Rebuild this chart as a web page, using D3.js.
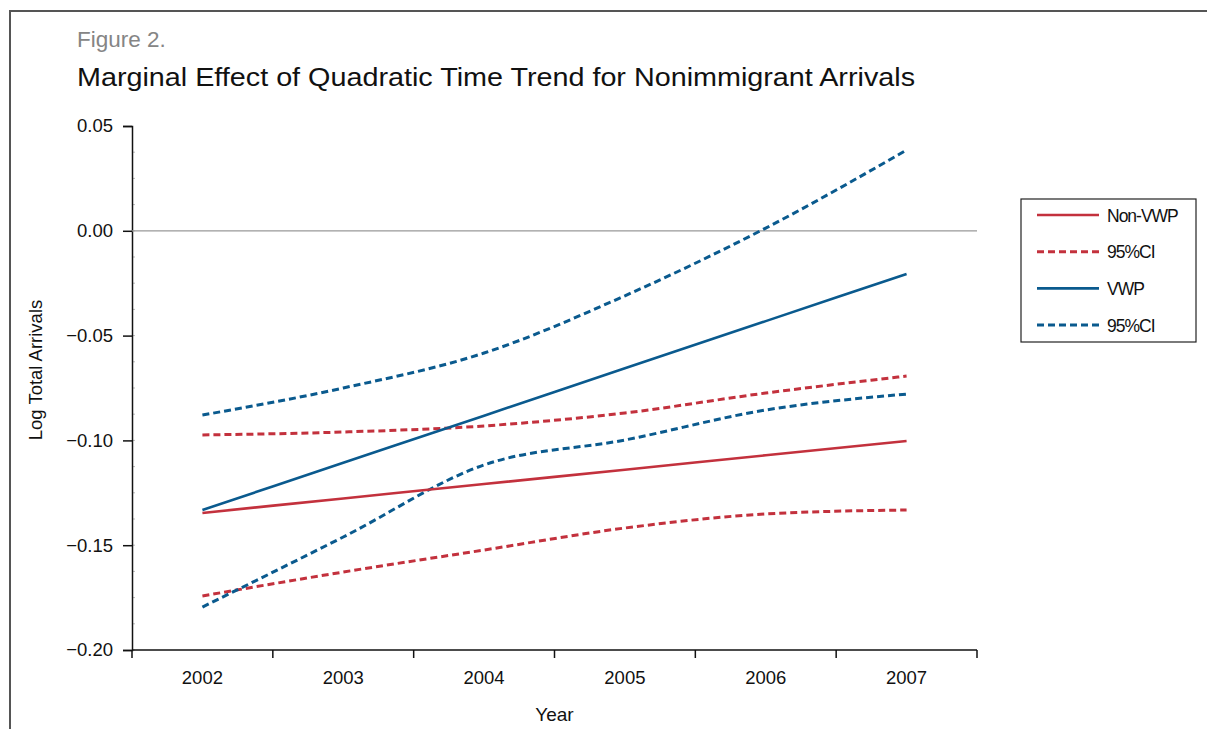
<!DOCTYPE html>
<html>
<head>
<meta charset="utf-8">
<script src="https://cdnjs.cloudflare.com/ajax/libs/d3/7.8.5/d3.min.js"></script>
<style>
	body { margin: 0; background: #fff; }
	text { font-family: 'Liberation Sans', Arial, sans-serif; }
</style>
</head>
<body>
<div class="chart"></div>
<script>
// values, one per year
var years = ['2002', '2003', '2004', '2005', '2006', '2007'];
var nonVwp = [-0.1346, -0.1277, -0.1208, -0.1140, -0.1071, -0.1003];
var nonVwpUpper = [-0.0974, -0.0960, -0.0931, -0.0869, -0.0774, -0.0693];
var nonVwpLower = [-0.1742, -0.1628, -0.1523, -0.1418, -0.1351, -0.1332];
var vwp = [-0.1332, -0.1107, -0.0882, -0.0656, -0.0431, -0.0206];
var vwpUpper = [-0.0879, -0.0750, -0.0583, -0.0310, 0.0013, 0.0385];
var vwpLower = [-0.1795, -0.1461, -0.1117, -0.0998, -0.0855, -0.0779];
var yTicks = [0.05, 0.00, -0.05, -0.10, -0.15, -0.20];
var legendLabels = ['Non-VWP', '95%CI', 'VWP', '95%CI'];

function drawChart(className, width, height){
	var svg = d3.select('.'+className)
				.append('svg')
				.attr('width', width)
				.attr('height', height);

	/*  ======== Dynamic Values ============= */
	var red = '#c3313d', blue = '#0a5a8e';
	var textColor = '#111';
	var axisLeft = 132, axisRight = 977, axisTop = 126, axisBottom = 650;
	var tickFont = 18.5;
	/*  ======== Dynamic Values ============= */

	// outer frame
	svg.append('rect')
		.attr('x', 10).attr('y', 11)
		.attr('width', width + 20).attr('height', height + 20)
		.attr('fill', 'none')
		.attr('stroke', '#555')
		.attr('stroke-width', 2);

	svg.append('text')
		.attr('x', 77).attr('y', 47)
		.attr('font-size', 22.5)
		.attr('fill', '#858585')
		.text('Figure 2.');
	svg.append('text')
		.attr('x', 77).attr('y', 86)
		.attr('font-size', 26.5)
		.attr('fill', textColor)
		.attr('textLength', 838)
		.attr('lengthAdjust', 'spacingAndGlyphs')
		.text('Marginal Effect of Quadratic Time Trend for Nonimmigrant Arrivals');

	var x = d3.scaleBand().domain(years).range([axisLeft, axisRight]).padding(0);
	var y = d3.scaleLinear().domain([-0.20, 0.05]).range([axisBottom, axisTop]);

	// minor ticks inside the y axis
	var i;
	for(i = 0; i < 20; i++){
		var v = -0.20 + 0.0125*i;
		svg.append('line')
			.attr('x1', axisLeft).attr('x2', axisLeft + 3)
			.attr('y1', y(v)).attr('y2', y(v))
			.attr('stroke', '#bbb').attr('stroke-width', 1);
	}

	var yAxis = d3.axisLeft(y)
				.tickValues(yTicks)
				.tickSize(9)
				.tickPadding(10)
				.tickFormat(function(d){ return d3.format('.2f')(d).replace('-', '\u2013'); });
	var yg = svg.append('g')
				.attr('transform', 'translate(' + axisLeft + ',0)')
				.call(yAxis);
	yg.select('.domain').attr('stroke', '#111').attr('stroke-width', 1.5);
	yg.selectAll('.tick line').attr('stroke', '#111').attr('stroke-width', 1.5);
	yg.selectAll('.tick text')
		.attr('font-size', tickFont)
		.attr('font-family', "'Liberation Sans', Arial, sans-serif")
		.attr('fill', textColor);

	// x axis: ticks on band edges, labels in band centres
	var xg = svg.append('g');
	xg.append('line')
		.attr('x1', axisLeft).attr('x2', axisRight)
		.attr('y1', axisBottom).attr('y2', axisBottom)
		.attr('stroke', '#111').attr('stroke-width', 1.5);
	for(i = 0; i <= years.length; i++){
		var ex = i < years.length ? x(years[i]) : axisRight;
		xg.append('line')
			.attr('x1', ex).attr('x2', ex)
			.attr('y1', axisBottom).attr('y2', axisBottom + 8)
			.attr('stroke', '#111').attr('stroke-width', 1.5);
	}
	for(i = 0; i < years.length; i++){
		xg.append('text')
			.attr('x', x(years[i]) + x.bandwidth()/2)
			.attr('y', 684)
			.attr('text-anchor', 'middle')
			.attr('font-size', tickFont)
			.attr('fill', textColor)
			.text(years[i]);
	}

	svg.append('text')
		.attr('x', (axisLeft + axisRight)/2)
		.attr('y', 721)
		.attr('text-anchor', 'middle')
		.attr('font-size', 19)
		.attr('fill', textColor)
		.text('Year');
	svg.append('text')
		.attr('transform', 'translate(42,370) rotate(-90)')
		.attr('text-anchor', 'middle')
		.attr('font-size', 18.5)
		.attr('fill', textColor)
		.text('Log Total Arrivals');

	// zero reference line
	svg.append('line')
		.attr('x1', axisLeft).attr('x2', axisRight)
		.attr('y1', y(0)).attr('y2', y(0))
		.attr('stroke', '#999').attr('stroke-width', 1.2);

	var series = [
		{vals: nonVwpLower, color: red, dash: '7,4'},
		{vals: nonVwpUpper, color: red, dash: '7,4'},
		{vals: vwpLower, color: blue, dash: '7,4'},
		{vals: vwpUpper, color: blue, dash: '7,4'},
		{vals: nonVwp, color: red, dash: null},
		{vals: vwp, color: blue, dash: null}
	];
	var line = d3.line()
				.x(function(d, j){ return x(years[j]) + x.bandwidth()/2; })
				.y(function(d){ return y(d); })
				.curve(d3.curveMonotoneX);
	for(i = 0; i < series.length; i++){
		svg.append('path')
			.attr('d', line(series[i].vals))
			.attr('fill', 'none')
			.attr('stroke', series[i].color)
			.attr('stroke-width', series[i].dash ? 3 : 2.6)
			.attr('stroke-dasharray', series[i].dash);
	}

	// legend
	var legend = svg.append('g');
	legend.append('rect')
		.attr('x', 1021).attr('y', 199)
		.attr('width', 175).attr('height', 143)
		.attr('fill', '#fff')
		.attr('stroke', '#222').attr('stroke-width', 1.2);
	var legColors = [red, red, blue, blue];
	var legDash = [null, '7,4', null, '7,4'];
	for(i = 0; i < legendLabels.length; i++){
		var ly = 215 + i*36.7;
		legend.append('line')
			.attr('x1', 1037).attr('x2', 1099)
			.attr('y1', ly).attr('y2', ly)
			.attr('stroke', legColors[i])
			.attr('stroke-width', legDash[i] ? 3 : 2.6)
			.attr('stroke-dasharray', legDash[i]);
		legend.append('text')
			.attr('x', 1107).attr('y', ly + 6.5)
			.attr('font-size', 17.5)
			.attr('letter-spacing', -1)
			.attr('fill', textColor)
			.text(legendLabels[i]);
	}
}

drawChart('chart', 1207, 729);
</script>
</body>
</html>
